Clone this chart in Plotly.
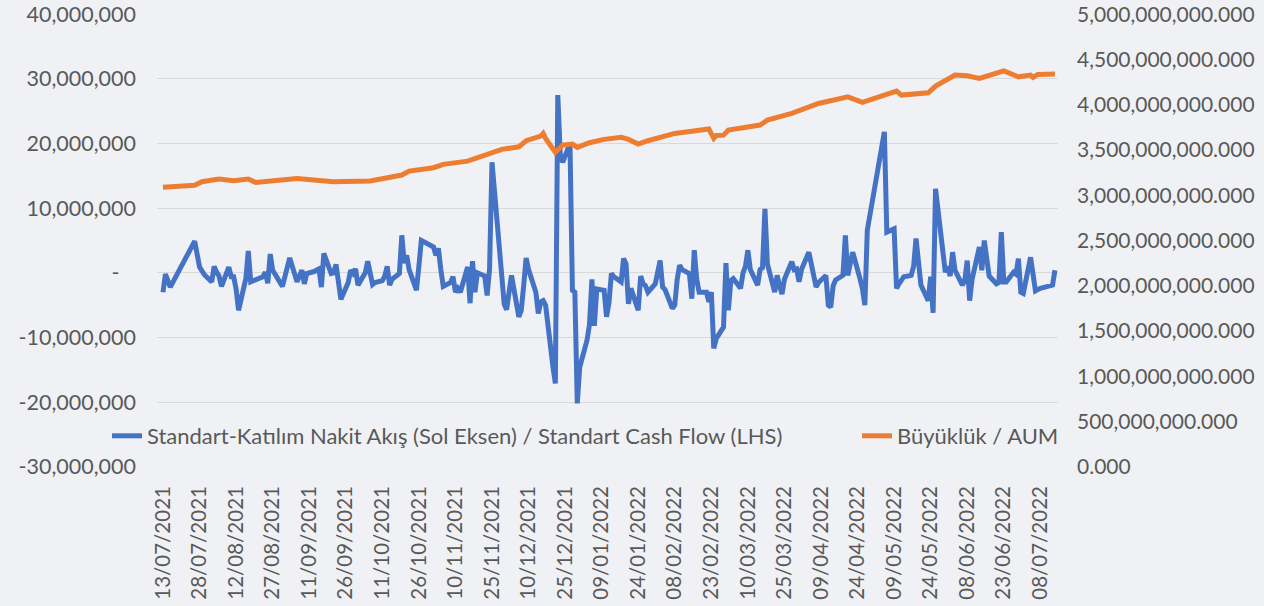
import plotly.graph_objects as go

# ---- Blue series: Standart cash flow (millions TRY) ----
CF_DATES = [
    "2021-07-13", "2021-07-14", "2021-07-16", "2021-07-26", "2021-07-28", "2021-07-29", "2021-07-30",
    "2021-08-02", "2021-08-03", "2021-08-04", "2021-08-05", "2021-08-06", "2021-08-09", "2021-08-10",
    "2021-08-11", "2021-08-12", "2021-08-13", "2021-08-16", "2021-08-17", "2021-08-18", "2021-08-19",
    "2021-08-20", "2021-08-23", "2021-08-24", "2021-08-25", "2021-08-26", "2021-08-27", "2021-08-31",
    "2021-09-01", "2021-09-02", "2021-09-03", "2021-09-06", "2021-09-07", "2021-09-08", "2021-09-09",
    "2021-09-10", "2021-09-13", "2021-09-14", "2021-09-15", "2021-09-16", "2021-09-17", "2021-09-20",
    "2021-09-21", "2021-09-22", "2021-09-23", "2021-09-24", "2021-09-27", "2021-09-28", "2021-09-29",
    "2021-09-30", "2021-10-01", "2021-10-04", "2021-10-05", "2021-10-06", "2021-10-07", "2021-10-08",
    "2021-10-11", "2021-10-12", "2021-10-13", "2021-10-14", "2021-10-15", "2021-10-18", "2021-10-19",
    "2021-10-20", "2021-10-21", "2021-10-22", "2021-10-25", "2021-10-26", "2021-10-27", "2021-10-28",
    "2021-11-01", "2021-11-02", "2021-11-03", "2021-11-04", "2021-11-05", "2021-11-08", "2021-11-09",
    "2021-11-10", "2021-11-11", "2021-11-12", "2021-11-15", "2021-11-16", "2021-11-17", "2021-11-18",
    "2021-11-19", "2021-11-22", "2021-11-23", "2021-11-24", "2021-11-25", "2021-11-30", "2021-12-01",
    "2021-12-02", "2021-12-03", "2021-12-06", "2021-12-07", "2021-12-08", "2021-12-09", "2021-12-10",
    "2021-12-13", "2021-12-14", "2021-12-15", "2021-12-16", "2021-12-17", "2021-12-20", "2021-12-21",
    "2021-12-22", "2021-12-23", "2021-12-24", "2021-12-27", "2021-12-28", "2021-12-29", "2021-12-30",
    "2021-12-31", "2022-01-03", "2022-01-04", "2022-01-05", "2022-01-06", "2022-01-07", "2022-01-10",
    "2022-01-11", "2022-01-12", "2022-01-13", "2022-01-14", "2022-01-17", "2022-01-18", "2022-01-19",
    "2022-01-20", "2022-01-21", "2022-01-24", "2022-01-25", "2022-01-26", "2022-01-27", "2022-01-28",
    "2022-01-31", "2022-02-01", "2022-02-02", "2022-02-03", "2022-02-04", "2022-02-07", "2022-02-08",
    "2022-02-09", "2022-02-10", "2022-02-11", "2022-02-14", "2022-02-15", "2022-02-16", "2022-02-17",
    "2022-02-18", "2022-02-21", "2022-02-22", "2022-02-23", "2022-02-24", "2022-02-25", "2022-02-28",
    "2022-03-01", "2022-03-02", "2022-03-03", "2022-03-04", "2022-03-07", "2022-03-08", "2022-03-09",
    "2022-03-10", "2022-03-11", "2022-03-14", "2022-03-15", "2022-03-16", "2022-03-17", "2022-03-18",
    "2022-03-21", "2022-03-22", "2022-03-23", "2022-03-24", "2022-03-25", "2022-03-28", "2022-03-29",
    "2022-03-30", "2022-03-31", "2022-04-01", "2022-04-04", "2022-04-05", "2022-04-06", "2022-04-07",
    "2022-04-08", "2022-04-11", "2022-04-12", "2022-04-13", "2022-04-14", "2022-04-15", "2022-04-18",
    "2022-04-19", "2022-04-20", "2022-04-21", "2022-04-22", "2022-04-25", "2022-04-26", "2022-04-27",
    "2022-04-28", "2022-05-05", "2022-05-06", "2022-05-09", "2022-05-10", "2022-05-11", "2022-05-12",
    "2022-05-13", "2022-05-16", "2022-05-17", "2022-05-18", "2022-05-20", "2022-05-23", "2022-05-24",
    "2022-05-25", "2022-05-26", "2022-05-30", "2022-05-31", "2022-06-01", "2022-06-02", "2022-06-03",
    "2022-06-06", "2022-06-07", "2022-06-08", "2022-06-09", "2022-06-10", "2022-06-13", "2022-06-14",
    "2022-06-15", "2022-06-16", "2022-06-17", "2022-06-20", "2022-06-21", "2022-06-22", "2022-06-23",
    "2022-06-24", "2022-06-27", "2022-06-28", "2022-06-29", "2022-06-30", "2022-07-01", "2022-07-04",
    "2022-07-05", "2022-07-06", "2022-07-07", "2022-07-08", "2022-07-13", "2022-07-14",
]
CF_VALUES_MN = [
    -3.0, -0.2, -2.2, 4.9, 0.9, 0.4, -0.3,
    -1.4, 1.0, 0.1, -0.5, -2.1, 0.9, -0.6,
    -0.6, -2.5, -5.8, -0.9, 3.4, -1.4, -1.2,
    -1.0, -0.6, 0.1, -1.6, 2.9, 0.4, -2.1,
    -0.5, 1.0, 2.3, -1.4, -0.5, 0.4, -1.7,
    -0.1, 0.2, 0.4, 0.6, -2.2, 3.0, -0.1,
    0.0, 1.3, -1.0, -4.1, -1.5, 0.4, -0.1,
    0.6, -1.9, 0.0, 1.8, -0.2, -1.8, -1.5,
    -1.2, -0.5, 1.0, -1.9, -1.0, -0.1, 5.8,
    1.5, 2.7, 0.5, -2.7, 1.0, 5.0, 4.8,
    4.0, 2.7, 3.8, 0.5, -2.1, -1.5, -0.6,
    -3.0, -2.4, -3.0, 0.9, -4.7, 1.8, -3.0,
    0.0, -0.5, -3.5, 0.6, 17.1, -4.8, -5.7,
    -3.0, -0.4, -6.8, -5.8, -2.0, 2.3, 0.5,
    -3.0, -6.3, -4.5, -4.3, -5.0, -14.5, -17.1,
    27.5, 18.4, 17.1, 20.0, -2.7, -3.0, -20.2,
    -14.6, -10.4, -8.0, -1.0, -8.2, -2.5, -2.7,
    -6.8, -4.6, -0.1, -0.6, -1.4, 2.2, 1.4,
    -4.8, -2.4, -5.8, -0.5, -1.7, -2.0, -3.0,
    -1.7, 0.0, 1.9, -2.2, -2.6, -5.5, -5.0,
    -1.0, 1.2, 0.5, -0.1, -4.0, 3.5, -1.0,
    -3.0, -3.0, -4.5, -3.0, -11.7, -10.2, -8.4,
    1.5, -5.8, -1.2, -0.9, -2.4, 0.0, 1.0,
    3.5, 0.5, -1.9, 0.5, 0.8, 9.9, 1.4,
    -3.0, -0.4, -2.0, -3.3, -1.0, 1.7, 0.5,
    0.6, -1.4, 0.5, 3.2, 1.5, -0.5, -2.2,
    -1.5, -0.4, -5.0, -5.3, -2.0, -1.1, -0.4,
    5.8, -0.4, 1.5, 3.2, -0.9, -2.5, -5.0,
    6.6, 21.8, 6.3, 6.8, -2.4, -1.7, -1.2,
    -0.6, -0.4, 1.0, 5.3, -1.9, -4.3, -0.6,
    -6.2, 13.0, 0.1, 1.0, -0.5, 3.2, 0.4,
    -1.9, -1.2, 1.9, -4.3, -1.0, 4.0, 0.4,
    5.0, 2.0, -0.5, -1.7, -1.5, 6.3, -1.4,
    -1.4, 0.1, -0.2, 2.2, -3.0, -3.2, 2.4,
    -0.5, -2.8, -2.6, -2.4, -1.9, 0.4,
]

# ---- Orange series: AUM (trillions TRY) ----
AUM_DATES = [
    "2021-07-13", "2021-07-26", "2021-07-29", "2021-08-05", "2021-08-11", "2021-08-17", "2021-08-20",
    "2021-09-06", "2021-09-21", "2021-10-06", "2021-10-19", "2021-10-22", "2021-11-01", "2021-11-05",
    "2021-11-15", "2021-11-22", "2021-11-24", "2021-11-29", "2021-12-06", "2021-12-09", "2021-12-15",
    "2021-12-16", "2021-12-17", "2021-12-21", "2021-12-24", "2021-12-28", "2021-12-30", "2022-01-04",
    "2022-01-10", "2022-01-17", "2022-01-20", "2022-01-24", "2022-01-28", "2022-02-08", "2022-02-22",
    "2022-02-24", "2022-02-25", "2022-02-28", "2022-03-02", "2022-03-15", "2022-03-18", "2022-03-28",
    "2022-04-08", "2022-04-20", "2022-04-26", "2022-05-09", "2022-05-10", "2022-05-12", "2022-05-23",
    "2022-05-26", "2022-05-30", "2022-06-03", "2022-06-08", "2022-06-13", "2022-06-23", "2022-06-29",
    "2022-07-04", "2022-07-05", "2022-07-07", "2022-07-14",
]
AUM_VALUES_TN = [
    3.087, 3.110, 3.149, 3.179, 3.160, 3.179, 3.142,
    3.186, 3.149, 3.157, 3.223, 3.267, 3.304, 3.341,
    3.377, 3.444, 3.473, 3.507, 3.535, 3.602, 3.653,
    3.683, 3.628, 3.473, 3.554, 3.565, 3.529, 3.580,
    3.617, 3.639, 3.617, 3.565, 3.602, 3.683, 3.731,
    3.628, 3.660, 3.664, 3.720, 3.775, 3.830, 3.904,
    4.014, 4.087, 4.025, 4.142, 4.150, 4.106, 4.131,
    4.205, 4.264, 4.327, 4.320, 4.290, 4.374, 4.308,
    4.327, 4.301, 4.334, 4.338,
]

# ---- Axis labels ----
LEFT_TICKS_MN = [-30, -20, -10, 0, 10, 20, 30, 40]
LEFT_TICKTEXT = ["-30,000,000", "-20,000,000", "-10,000,000", "-\u00a0\u00a0\u00a0",
                 "10,000,000", "20,000,000", "30,000,000", "40,000,000"]
RIGHT_TICKS_TN = [0, 0.5, 1, 1.5, 2, 2.5, 3, 3.5, 4, 4.5, 5]
RIGHT_TICKTEXT = ["0.000", "500,000,000.000", "1,000,000,000.000", "1,500,000,000.000",
                  "2,000,000,000.000", "2,500,000,000.000", "3,000,000,000.000",
                  "3,500,000,000.000", "4,000,000,000.000", "4,500,000,000.000",
                  "5,000,000,000.000"]

NAME_CF = "Standart-Katılım Nakit Akış (Sol Eksen) / Standart Cash Flow (LHS)"
NAME_AUM = "Büyüklük / AUM"

FONT = "Lato, 'Open Sans', sans-serif"
GREY = "#595959"

fig = go.Figure()
fig.add_trace(go.Scatter(
    x=CF_DATES, y=CF_VALUES_MN, name=NAME_CF, mode="lines",
    line=dict(color="#4472C4", width=5, shape="linear"), yaxis="y", legend="legend",
))
fig.add_trace(go.Scatter(
    x=AUM_DATES, y=AUM_VALUES_TN, name=NAME_AUM, mode="lines",
    line=dict(color="#ED7D31", width=5), yaxis="y2", legend="legend2",
))

# page body margin is removed (post_script below), so figure == window
W, H = 1264, 606
PL, PR, PT, PB = 157, 1058, 14, 467          # target plot area in window pixels
L, T = PL, PT
R, B = W - PR, H - PB
pw = W - L - R
ph = H - T - B


def px_x(p):
    return (p - PL) / pw


def px_y(p):
    return (PB - p) / ph


fig.update_layout(
    width=W, height=H,
    margin=dict(l=L, r=R, t=T, b=B, autoexpand=False),
    paper_bgcolor="#F0F1F4", plot_bgcolor="#F0F1F4",
    font=dict(family=FONT, size=20, color=GREY),
    xaxis=dict(
        type="date",
        range=["2021-07-10 13:00", "2022-07-15 06:00"],
        tick0="2021-07-13", dtick=15 * 86400000,
        tickformat="%d/%m/%Y", tickangle=-90,
        showgrid=False, zeroline=False, showline=False, ticks="",
        ticklabelstandoff=14, ticklabeloverflow="allow",
        tickfont=dict(size=20.5, color=GREY),
    ),
    yaxis=dict(
        range=[-30.03, 40.03], tickvals=LEFT_TICKS_MN, ticktext=LEFT_TICKTEXT,
        showgrid=True, gridcolor="#D9D9D9", gridwidth=1.3,
        zeroline=False, showline=False, ticks="", ticklabelstandoff=20,
        ticklabeloverflow="allow",
        tickfont=dict(size=21.5, color=GREY),
    ),
    yaxis2=dict(
        range=[-0.002, 5.002], tickvals=RIGHT_TICKS_TN, ticktext=RIGHT_TICKTEXT,
        overlaying="y", side="right", showgrid=False, zeroline=False,
        showline=False, ticks="", ticklabelstandoff=18,
        ticklabeloverflow="allow",
        tickfont=dict(size=21, color=GREY),
    ),
    legend=dict(
        x=px_x(107), y=px_y(436), xanchor="left", yanchor="middle",
        orientation="h", bgcolor="rgba(0,0,0,0)", borderwidth=0,
        font=dict(size=22, color=GREY),
    ),
    legend2=dict(
        x=px_x(857), y=px_y(436), xanchor="left", yanchor="middle",
        orientation="h", bgcolor="rgba(0,0,0,0)", borderwidth=0,
        font=dict(size=22, color=GREY),
    ),
    showlegend=True,
)

fig.write_html(
    "out.html",
    config={"displayModeBar": False},
    post_script="document.body.style.margin='0';document.body.style.overflow='hidden';"
                "document.body.style.background='#F0F1F4';",
)
